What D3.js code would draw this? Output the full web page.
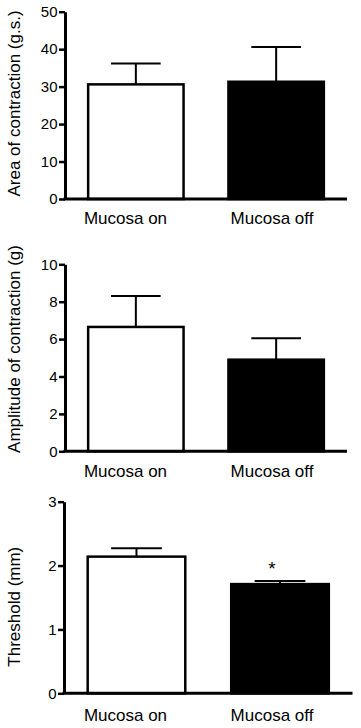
<!DOCTYPE html>
<html>
<head>
<meta charset="utf-8">
<script src="https://cdn.jsdelivr.net/npm/d3@7"></script>
<style>
  body { margin: 0; background: #fff; }
  svg { display: block; font-family: "Liberation Sans", Arial, sans-serif; }
</style>
</head>
<body>
<div id="chart"></div>
<script>
const groups = ["Mucosa on", "Mucosa off"];

const areaMean = [30.6, 31.3];
const areaSem = [5.6, 9.3];
const areaTicks = [0, 10, 20, 30, 40, 50];

const amplitudeMean = [6.65, 4.9];
const amplitudeSem = [1.65, 1.15];
const amplitudeTicks = [0, 2, 4, 6, 8, 10];

const thresholdMean = [2.14, 1.71];
const thresholdSem = [0.13, 0.05];
const thresholdTicks = [0, 1, 2, 3];
const thresholdSignif = [false, true];

const fills = ["#fff", "#000"];

const width = 361, height = 728;

const svg = d3.select("#chart")
    .append("svg")
    .attr("width", width)
    .attr("height", height);

// layout of each panel
const panels = [
    { title: "Area of contraction (g.s.)", mean: areaMean, sem: areaSem, ticks: areaTicks, signif: null,
      top: 11.7, bottom: 199, left: 65, right: 347, labelY: 223.5, titleY: 103.5 },
    { title: "Amplitude of contraction (g)", mean: amplitudeMean, sem: amplitudeSem, ticks: amplitudeTicks, signif: null,
      top: 264.3, bottom: 451.3, left: 65, right: 347, labelY: 477, titleY: 349 },
    { title: "Threshold (mm)", mean: thresholdMean, sem: thresholdSem, ticks: thresholdTicks, signif: thresholdSignif,
      top: 501.7, bottom: 693.3, left: 64, right: 352.5, labelY: 721, titleY: 606.7 }
];

// category labels sit at the same place in every panel
const labelX = d3.scalePoint()
    .domain(groups)
    .range([125.5, 272]);

panels.forEach(p => {
    const g = svg.append("g");

    const x = d3.scaleBand()
        .domain(groups)
        .range([p.left, p.right])
        .paddingInner(0.32)
        .paddingOuter(0.165);

    const y = d3.scaleLinear()
        .domain([0, d3.max(p.ticks)])
        .range([p.bottom, p.top]);

    const data = groups.map((name, i) => ({ name, mean: p.mean[i], sem: p.sem[i], fill: fills[i], star: p.signif ? p.signif[i] : false }));

    // error bars (upper only)
    const capHalf = x.bandwidth() * 0.26;
    g.selectAll(".err")
        .data(data)
        .enter()
        .append("line")
        .attr("x1", d => x(d.name) + x.bandwidth() / 2)
        .attr("x2", d => x(d.name) + x.bandwidth() / 2)
        .attr("y1", d => y(d.mean))
        .attr("y2", d => y(d.mean + d.sem))
        .attr("stroke", "#000")
        .attr("stroke-width", 2);

    g.selectAll(".cap")
        .data(data)
        .enter()
        .append("line")
        .attr("x1", d => x(d.name) + x.bandwidth() / 2 - capHalf)
        .attr("x2", d => x(d.name) + x.bandwidth() / 2 + capHalf)
        .attr("y1", d => y(d.mean + d.sem))
        .attr("y2", d => y(d.mean + d.sem))
        .attr("stroke", "#000")
        .attr("stroke-width", 2);

    // bars
    g.selectAll(".bar")
        .data(data)
        .enter()
        .append("rect")
        .attr("x", d => x(d.name))
        .attr("y", d => y(d.mean))
        .attr("width", x.bandwidth())
        .attr("height", d => y(0) - y(d.mean))
        .attr("fill", d => d.fill)
        .attr("stroke", "#000")
        .attr("stroke-width", 2.5);

    // significance star
    g.selectAll(".star")
        .data(data.filter(d => d.star))
        .enter()
        .append("text")
        .attr("x", d => labelX(d.name))
        .attr("y", d => y(d.mean + d.sem) - 6)
        .attr("text-anchor", "middle")
        .style("font-size", "19px")
        .style("fill", "#000")
        .text("*");

    // y axis
    const yAxis = g.append("g")
        .attr("transform", `translate(${p.left},0)`)
        .call(d3.axisLeft(y).tickValues(p.ticks).tickSize(6).tickSizeOuter(0).tickPadding(1.5).tickFormat(d3.format("d")));
    yAxis.select(".domain").attr("stroke-width", 3).attr("stroke", "#000");
    yAxis.selectAll(".tick line").attr("stroke-width", 2.5).attr("stroke", "#000");
    yAxis.selectAll(".tick text")
        .style("font-size", "15px")
        .style("font-family", "'Liberation Sans', Arial, sans-serif")
        .style("fill", "#000");

    // x axis baseline
    g.append("line")
        .attr("x1", p.left - 1.5)
        .attr("x2", p.right)
        .attr("y1", y(0))
        .attr("y2", y(0))
        .attr("stroke", "#000")
        .attr("stroke-width", 3);

    // category labels
    g.selectAll(".cat")
        .data(groups)
        .enter()
        .append("text")
        .attr("x", d => labelX(d))
        .attr("y", p.labelY)
        .attr("text-anchor", "middle")
        .style("font-size", "17px")
        .style("fill", "#000")
        .text(d => d);

    // y title
    g.append("text")
        .attr("transform", `translate(19.5,${p.titleY}) rotate(-90)`)
        .attr("text-anchor", "middle")
        .style("font-size", "17px")
        .style("fill", "#000")
        .text(p.title);
});
</script>
</body>
</html>
